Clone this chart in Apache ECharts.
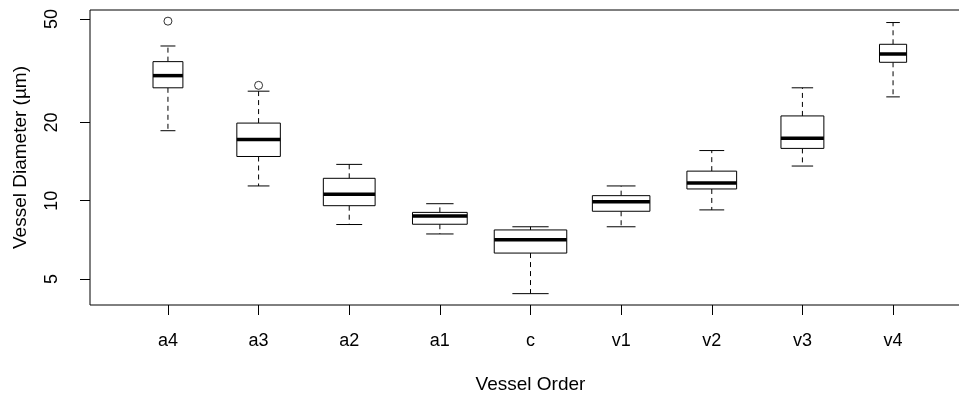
<!DOCTYPE html>
<html>
<head>
<meta charset="utf-8">
<script src="https://cdn.jsdelivr.net/npm/echarts@6/dist/echarts.min.js"></script>
<style>
  html, body { margin: 0; padding: 0; background: #fff; }
  #main { width: 959px; height: 397px; }
</style>
</head>
<body>
<div id="main"></div>
<script>
// vessel orders, in plot order
var categories = ['a4', 'a3', 'a2', 'a1', 'c', 'v1', 'v2', 'v3', 'v4'];
// five-number summaries (whisker low, Q1, median, Q3, whisker high), µm
var lowWhisker = [18.6, 11.4, 8.1, 7.45, 4.39, 7.94, 9.22, 13.6, 25.1];
var q1 = [27.2, 14.8, 9.57, 8.12, 6.29, 9.11, 11.1, 15.9, 34.1];
var medians = [30.3, 17.2, 10.6, 8.74, 7.08, 9.91, 11.7, 17.4, 36.7];
var q3 = [34.3, 19.9, 12.2, 9.02, 7.72, 10.46, 13.0, 21.2, 40.0];
var highWhisker = [39.4, 26.4, 13.8, 9.74, 7.94, 11.4, 15.6, 27.2, 48.5];
// group sizes (box widths are proportional to sqrt(n))
var sampleSizes = [17, 36, 51, 57, 100, 63, 47, 35, 14];
// outliers: [category index, value]
var outliers = [[0, 49.1], [1, 27.8]];
var yTicks = [5, 10, 20, 50];

var maxN = Math.max.apply(null, sampleSizes);

var boxData = categories.map(function (c, i) {
  return [i + 1, lowWhisker[i], q1[i], medians[i], q3[i], highWhisker[i], sampleSizes[i]];
});
var outlierData = outliers.map(function (o) { return [o[0] + 1, o[1]]; });

var chart = echarts.init(document.getElementById('main'), null, { renderer: 'canvas' });

function renderBox(params, api) {
  var x = api.value(0);
  var lo = api.value(1), b1 = api.value(2), med = api.value(3), b3 = api.value(4), hi = api.value(5);
  var n = api.value(6);
  var unit = api.coord([x + 0.5, med])[0] - api.coord([x - 0.5, med])[0];
  var w = 0.8 * unit * Math.sqrt(n / maxN);
  var cx = api.coord([x, med])[0];
  var yLo = api.coord([x, lo])[1];
  var y1 = api.coord([x, b1])[1];
  var yMed = api.coord([x, med])[1];
  var y3 = api.coord([x, b3])[1];
  var yHi = api.coord([x, hi])[1];
  var sw = w / 4;
  var ln = { stroke: '#000', lineWidth: 1 };
  var dash = { stroke: '#000', lineWidth: 1, lineDash: [5, 4] };
  return {
    type: 'group',
    children: [
      { type: 'line', shape: { x1: cx, y1: y3, x2: cx, y2: yHi }, style: dash },
      { type: 'line', shape: { x1: cx, y1: y1, x2: cx, y2: yLo }, style: dash },
      { type: 'line', shape: { x1: cx - sw, y1: yHi, x2: cx + sw, y2: yHi }, style: ln },
      { type: 'line', shape: { x1: cx - sw, y1: yLo, x2: cx + sw, y2: yLo }, style: ln },
      { type: 'rect', shape: { x: cx - w / 2, y: y3, width: w, height: y1 - y3 },
        style: { fill: '#fff', stroke: '#000', lineWidth: 1 } },
      { type: 'line', shape: { x1: cx - w / 2, y1: yMed, x2: cx + w / 2, y2: yMed },
        style: { stroke: '#000', lineWidth: 3.5 } }
    ]
  };
}

var option = {
  animation: false,
  backgroundColor: '#fff',
  textStyle: { fontFamily: 'Liberation Sans, Arial, sans-serif' },
  grid: {
    left: 90, top: 10, right: -12, bottom: 92,
    containLabel: false,
    outerBoundsMode: 'none',
    show: true, borderColor: '#000', borderWidth: 1, backgroundColor: 'transparent'
  },
  xAxis: {
    type: 'value',
    min: 0.14,
    max: 9.86,
    name: 'Vessel Order',
    nameLocation: 'middle',
    nameGap: 70,
    nameTextStyle: { fontSize: 19, color: '#000' },
    axisLine: { show: false },
    splitLine: { show: false },
    axisTick: { show: true, length: 10, lineStyle: { color: '#000' }, customValues: [1, 2, 3, 4, 5, 6, 7, 8, 9] },
    axisLabel: {
      margin: 27, fontSize: 18, color: '#000',
      customValues: [1, 2, 3, 4, 5, 6, 7, 8, 9],
      formatter: function (v) { return categories[Math.round(v) - 1] || ''; }
    }
  },
  yAxis: {
    type: 'log',
    logBase: 10,
    min: 3.97,
    max: 54.2,
    name: 'Vessel Diameter (µm)',
    nameLocation: 'middle',
    nameRotate: 90,
    nameGap: 60,
    nameTextStyle: { fontSize: 19, color: '#000' },
    axisLine: { show: false },
    splitLine: { show: false },
    axisTick: { show: true, length: 10, lineStyle: { color: '#000' }, customValues: yTicks },
    axisLabel: {
      margin: 29, fontSize: 18, color: '#000', rotate: 90,
      customValues: yTicks,
      formatter: function (v) { return String(Math.round(v)); }
    }
  },
  series: [
    {
      type: 'custom',
      renderItem: renderBox,
      encode: { x: 0, y: [1, 2, 3, 4, 5] },
      data: boxData,
      z: 2
    },
    {
      type: 'scatter',
      symbol: 'circle',
      symbolSize: 8,
      itemStyle: { color: '#fff', borderColor: '#000', borderWidth: 1 },
      data: outlierData,
      z: 3
    }
  ]
};

chart.setOption(option);
</script>
</body>
</html>
